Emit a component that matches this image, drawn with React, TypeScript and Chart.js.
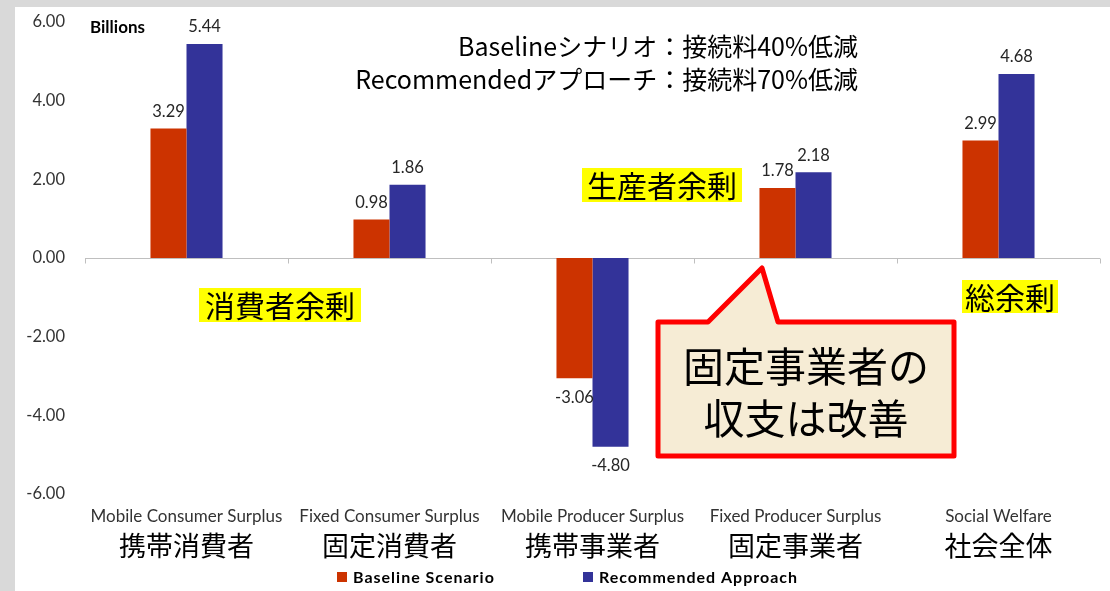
import React, { useEffect, useRef } from "react";
import { Chart, registerables } from "chart.js";

Chart.register(...registerables);

const categoriesEn = ["Mobile Consumer Surplus", "Fixed Consumer Surplus", "Mobile Producer Surplus", "Fixed Producer Surplus", "Social Welfare"];
const categoriesJa = ["携帯消費者", "固定消費者", "携帯事業者", "固定事業者", "社会全体"];
const baselineValues = [3.29, 0.98, -3.06, 1.78, 2.99];
const recommendedValues = [5.44, 1.86, -4.8, 2.18, 4.68];
const seriesNames = ["Baseline Scenario", "Recommended Approach"];
const noteLines = ["Baselineシナリオ：接続料40%低減", "Recommendedアプローチ：接続料70%低減"];
const highlightLabels = ["消費者余剰", "生産者余剰", "総余剰"];
const calloutLines = ["固定事業者の", "収支は改善"];

const LATIN = "Lato, 'Open Sans', sans-serif";
const CJK = "'Noto Sans CJK JP', sans-serif";
const BASE_COLOR = "#CC3300";
const REC_COLOR = "#333399";

const decoPlugin = {
  id: "deco",
  beforeDraw(chart: any) {
    const ctx = chart.ctx;
    ctx.save();
    ctx.fillStyle = "#d9d9d9";
    ctx.fillRect(0, 0, chart.width, chart.height);
    ctx.fillStyle = "#ffffff";
    ctx.fillRect(15, 7, chart.width - 15, chart.height - 7);
    const ca = chart.chartArea;
    const y0 = Math.round(chart.scales.y.getPixelForValue(0)) + 0.5;
    ctx.strokeStyle = "#bfbfbf";
    ctx.lineWidth = 1;
    ctx.beginPath();
    ctx.moveTo(ca.left, y0);
    ctx.lineTo(ca.right, y0);
    const n = categoriesEn.length;
    const w = (ca.right - ca.left) / n;
    for (let i = 0; i <= n; i++) {
      const x = Math.round(ca.left + i * w) + 0.5;
      ctx.moveTo(x, y0);
      ctx.lineTo(x, y0 + 5);
    }
    ctx.stroke();
    ctx.restore();
  },
  afterDatasetsDraw(chart: any) {
    const ctx = chart.ctx;
    const ca = chart.chartArea;
    ctx.save();
    ctx.font = `16.5px ${LATIN}`;
    ctx.fillStyle = "#262626";
    ctx.textAlign = "center";
    ctx.textBaseline = "middle";
    chart.data.datasets.forEach((ds: any, di: number) => {
      const meta = chart.getDatasetMeta(di);
      meta.data.forEach((bar: any, i: number) => {
        const v = ds.data[i];
        const y = v >= 0 ? bar.y - 17 : bar.y + 19;
        ctx.fillText(v.toFixed(2), bar.x, y);
      });
    });
    const n = categoriesEn.length;
    const w = (ca.right - ca.left) / n;
    for (let i = 0; i < n; i++) {
      const cx = ca.left + w * (i + 0.5);
      ctx.font = `17px ${LATIN}`;
      ctx.fillStyle = "#333333";
      ctx.fillText(categoriesEn[i], cx, 517);
      ctx.font = `27px ${CJK}`;
      ctx.fillStyle = "#000000";
      ctx.fillText(categoriesJa[i], cx, 546);
    }
    ctx.textAlign = "left";
    ctx.font = `bold 17px ${LATIN}`;
    ctx.fillStyle = "#000000";
    ctx.fillText("Billions", 90, 28);
    ctx.textAlign = "right";
    ctx.font = `25px ${CJK}`;
    ctx.fillText(noteLines[0], 858, 46);
    ctx.fillText(noteLines[1], 858, 79);
    const boxes = [
      [199, 288, 162, 34],
      [582, 168, 160, 34],
      [962, 280, 96, 33],
    ];
    ctx.textAlign = "center";
    ctx.font = `30px ${CJK}`;
    boxes.forEach((b, i) => {
      ctx.fillStyle = "#ffff00";
      ctx.fillRect(b[0], b[1], b[2], b[3]);
      ctx.fillStyle = "#000000";
      ctx.fillText(highlightLabels[i], b[0] + b[2] / 2, b[1] + b[3] / 2 + 1);
    });
    ctx.beginPath();
    ctx.moveTo(658, 322);
    ctx.lineTo(708, 322);
    ctx.lineTo(762, 268);
    ctx.lineTo(778, 322);
    ctx.lineTo(954, 322);
    ctx.lineTo(954, 456);
    ctx.lineTo(658, 456);
    ctx.closePath();
    ctx.fillStyle = "#f6ecd5";
    ctx.fill();
    ctx.lineWidth = 5;
    ctx.lineJoin = "round";
    ctx.strokeStyle = "#ff0000";
    ctx.stroke();
    ctx.fillStyle = "#000000";
    ctx.font = `41px ${CJK}`;
    ctx.fillText(calloutLines[0], 806, 366);
    ctx.fillText(calloutLines[1], 806, 418);
    ctx.textAlign = "left";
    ctx.font = `bold 16px ${LATIN}`;
    (ctx as any).letterSpacing = "1px";
    const legendX = [337, 583];
    const colors = [BASE_COLOR, REC_COLOR];
    legendX.forEach((x, i) => {
      ctx.fillStyle = colors[i];
      ctx.fillRect(x, 572, 10, 10);
      ctx.fillStyle = "#000000";
      ctx.fillText(seriesNames[i], x + 16, 578);
    });
    ctx.restore();
  },
};

export default function App() {
  const ref = useRef<HTMLCanvasElement>(null);
  useEffect(() => {
    const chart = new Chart(ref.current as HTMLCanvasElement, {
      type: "bar",
      data: {
        labels: categoriesEn,
        datasets: [
          { label: seriesNames[0], data: baselineValues, backgroundColor: BASE_COLOR, barPercentage: 1, categoryPercentage: 0.355 },
          { label: seriesNames[1], data: recommendedValues, backgroundColor: REC_COLOR, barPercentage: 1, categoryPercentage: 0.355 },
        ],
      },
      options: {
        animation: false,
        responsive: false,
        maintainAspectRatio: false,
        layout: { padding: { left: 0, top: 22, right: 10, bottom: 0 } },
        plugins: { legend: { display: false }, tooltip: { enabled: false } },
        scales: {
          x: {
            grid: { display: false },
            border: { display: false },
            ticks: { display: false },
            afterFit: (s: any) => { s.height = 97; },
          },
          y: {
            min: -6,
            max: 6,
            grid: { display: false },
            border: { display: false },
            ticks: {
              stepSize: 2,
              padding: 12,
              color: "#333333",
              font: { family: LATIN, size: 16.5 },
              callback: (v: any) => Number(v).toFixed(2),
            },
            afterFit: (s: any) => { s.width = 85; },
          },
        },
      },
      plugins: [decoPlugin],
    });
    return () => chart.destroy();
  }, []);
  return (
    <div style={{ position: "fixed", left: 0, top: 0, width: 1110, height: 591 }}>
      <canvas ref={ref} width={1110} height={591} style={{ display: "block", width: 1110, height: 591 }} />
    </div>
  );
}
